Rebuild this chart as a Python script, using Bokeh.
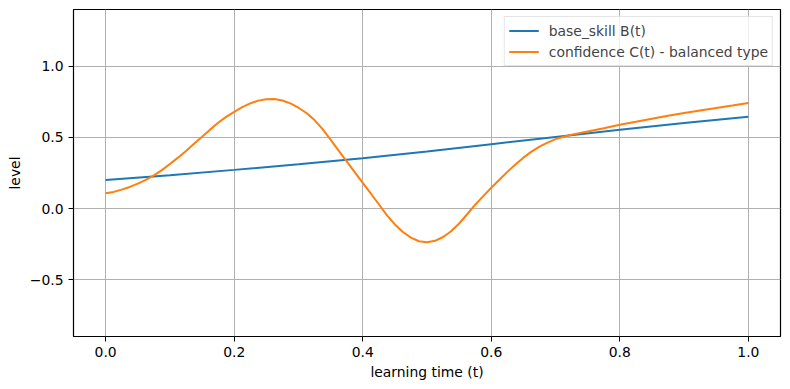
from bokeh.plotting import figure
from bokeh.embed import file_html
from bokeh.resources import INLINE
from bokeh.models import Range1d, FixedTicker, Legend, LegendItem

# --- data ---
t_base = [0.0, 0.1, 0.2, 0.3, 0.4, 0.5, 0.6, 0.7, 0.8, 0.9, 1.0]
base_skill = [0.200, 0.235, 0.272, 0.311, 0.354, 0.401, 0.453, 0.504, 0.554, 0.601, 0.646]

t_conf = [0.0000, 0.0125, 0.0250, 0.0375, 0.0500, 0.0625, 0.0750, 0.0875, 0.1000, 0.1125,
          0.1250, 0.1375, 0.1500, 0.1625, 0.1750, 0.1875, 0.2000, 0.2125, 0.2250, 0.2375,
          0.2500, 0.2625, 0.2750, 0.2875, 0.3000, 0.3125, 0.3250, 0.3375, 0.3500, 0.3625,
          0.3750, 0.3875, 0.4000, 0.4125, 0.4250, 0.4375, 0.4500, 0.4625, 0.4750, 0.4875,
          0.5000, 0.5125, 0.5250, 0.5375, 0.5500, 0.5625, 0.5750, 0.5875, 0.6000, 0.6125,
          0.6250, 0.6375, 0.6500, 0.6625, 0.6750, 0.6875, 0.7000, 0.7125, 0.7250, 0.7500,
          0.7750, 0.8000, 0.8250, 0.8500, 0.8750, 0.9000, 0.9250, 0.9500, 0.9750, 1.0000]
confidence = [0.108, 0.117, 0.133, 0.152, 0.175, 0.201, 0.233, 0.270, 0.313, 0.358,
              0.405, 0.455, 0.505, 0.555, 0.603, 0.645, 0.680, 0.713, 0.740, 0.759,
              0.768, 0.770, 0.760, 0.740, 0.709, 0.672, 0.622, 0.558, 0.485, 0.408,
              0.332, 0.256, 0.181, 0.106, 0.030, -0.046, -0.112, -0.165, -0.205, -0.230,
              -0.237, -0.227, -0.200, -0.160, -0.105, -0.040, 0.027, 0.087, 0.146, 0.202,
              0.258, 0.310, 0.358, 0.400, 0.435, 0.464, 0.488, 0.505, 0.519, 0.542,
              0.565, 0.589, 0.610, 0.632, 0.653, 0.672, 0.690, 0.707, 0.724, 0.742]

x_ticks = [0.0, 0.2, 0.4, 0.6, 0.8, 1.0]
x_tick_labels = ["0.0", "0.2", "0.4", "0.6", "0.8", "1.0"]
y_ticks = [-0.5, 0.0, 0.5, 1.0]
y_tick_labels = ["\u22120.5", "0.0", "0.5", "1.0"]

label_base = "base_skill B(t)"
label_conf = "confidence C(t) - balanced type"
x_label = "learning time (t)"
y_label = "level"

FONT = "DejaVu Sans"
FS = "13.9px"

p = figure(width=790, height=389, output_backend="svg", toolbar_location=None,
           x_range=Range1d(-0.05, 1.05), y_range=Range1d(-0.9, 1.4),
           min_border_left=73, min_border_right=10, min_border_top=9, min_border_bottom=53)

p.outline_line_color = "black"
p.outline_line_width = 1.2
p.background_fill_color = "white"
p.border_fill_color = "white"

p.xaxis.ticker = FixedTicker(ticks=x_ticks)
p.yaxis.ticker = FixedTicker(ticks=y_ticks)
p.xaxis.major_label_overrides = {k: v for k, v in zip(x_ticks, x_tick_labels)}
p.yaxis.major_label_overrides = {k: v for k, v in zip(y_ticks, y_tick_labels)}

for ax in (p.xaxis, p.yaxis):
    ax.axis_line_color = None
    ax.minor_tick_line_color = None
    ax.major_tick_in = 0
    ax.major_tick_out = 5
    ax.major_tick_line_color = "black"
    ax.major_label_text_font = FONT
    ax.major_label_text_font_size = FS
    ax.major_label_text_color = "black"
    ax.axis_label_text_font = FONT
    ax.axis_label_text_font_size = FS
    ax.axis_label_text_font_style = "normal"
    ax.axis_label_text_color = "black"

p.xaxis.axis_label = x_label
p.yaxis.axis_label = y_label
p.xaxis.major_label_standoff = 5
p.yaxis.major_label_standoff = 5
p.xaxis.axis_label_standoff = 4
p.yaxis.axis_label_standoff = 4

p.xgrid.grid_line_color = "#b0b0b0"
p.ygrid.grid_line_color = "#b0b0b0"
p.xgrid.grid_line_width = 1
p.ygrid.grid_line_width = 1

r1 = p.line(t_base, base_skill, line_color="#1f77b4", line_width=2)
r2 = p.line(t_conf, confidence, line_color="#ff7f0e", line_width=2)

legend = Legend(items=[LegendItem(label=label_base, renderers=[r1]),
                       LegendItem(label=label_conf, renderers=[r2])],
                location="top_right")
legend.margin = 7
legend.padding = 4
legend.spacing = 2
legend.glyph_width = 30
legend.glyph_height = 19
legend.label_standoff = 10
legend.label_text_font = FONT
legend.label_text_font_size = FS
legend.label_height = 19
legend.border_line_color = "#cccccc"
legend.border_line_width = 1
legend.background_fill_alpha = 0.8
p.add_layout(legend)

open("out.html", "w").write(file_html(p, INLINE))
